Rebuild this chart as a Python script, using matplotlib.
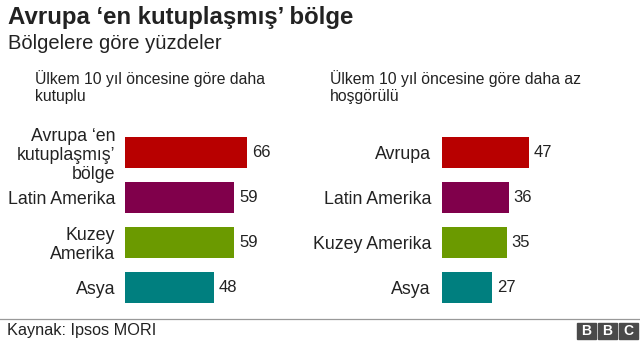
import matplotlib.pyplot as plt
from matplotlib.patches import Rectangle

plt.rcParams['font.family'] = ['Liberation Sans', 'DejaVu Sans']

# data
left_labels = ["Avrupa ‘en\nkutuplaşmış’\nbölge", "Latin Amerika", "Kuzey\nAmerika", "Asya"]
left_values = [66, 59, 59, 48]
right_labels = ["Avrupa", "Latin Amerika", "Kuzey Amerika", "Asya"]
right_values = [47, 36, 35, 27]
colors = ["#b80000", "#80004b", "#6b9a00", "#007f7f"]

title = "Avrupa ‘en kutuplaşmış’ bölge"
subtitle = "Bölgelere göre yüzdeler"
left_header = "Ülkem 10 yıl öncesine göre daha\nkutuplu"
right_header = "Ülkem 10 yıl öncesine göre daha az\nhoşgörülü"
source = "Kaynak: Ipsos MORI"

W, H = 640, 343
fig = plt.figure(figsize=(W / 100, H / 100), dpi=100)


def px_axes(x0, y0, w, h):
    # axes from pixel box (top-left origin)
    return fig.add_axes([x0 / W, 1 - (y0 + h) / H, w / W, h / H])


def draw_panel(ax, labels, values, pad):
    ax.barh(range(len(values)), values, height=0.69, color=colors)
    ax.set_xlim(0, 100)
    ax.set_ylim(3.5, -0.5)
    ax.set_yticks(range(len(labels)))
    ax.set_yticklabels(labels, fontsize=12.8, color="#222222", linespacing=1.15,
                       multialignment="right")
    ax.tick_params(axis="y", length=0, pad=pad)
    ax.set_xticks([])
    for s in ax.spines.values():
        s.set_visible(False)
    for i, v in enumerate(values):
        ax.text(v + 2.7, i, str(v), va="center", ha="left", fontsize=12, color="#222222")


ax1 = px_axes(125, 130, 185, 180)
draw_panel(ax1, left_labels, left_values, 7)
ax2 = px_axes(442, 130, 185, 180)
draw_panel(ax2, right_labels, right_values, 8)

fig.text(8 / W, 1 - 6 / H, title, fontsize=17.3, fontweight="bold", va="top", color="#222222")
fig.text(8 / W, 1 - 34 / H, subtitle, fontsize=14.5, va="top", color="#222222")
fig.text(35 / W, 1 - 70 / H, left_header, fontsize=11.3, va="top", color="#222222", linespacing=1.2)
fig.text(330 / W, 1 - 70 / H, right_header, fontsize=11.3, va="top", color="#222222", linespacing=1.2)

# footer
fig.add_artist(plt.Line2D([0, 1], [1 - 319 / H, 1 - 319 / H], color="#999999", lw=0.9))
fig.text(7 / W, 1 - 331 / H, source, fontsize=11.7, va="center", color="#222222")
for k, ch in enumerate("BBC"):
    x0 = 577 + k * 21
    fig.add_artist(Rectangle((x0 / W, 1 - 339 / H), 19 / W, 16 / H, color="#4a4a4a",
                             transform=fig.transFigure))
    fig.text((x0 + 9.5) / W, 1 - 331 / H, ch, fontsize=10, fontweight="bold",
             color="white", ha="center", va="center")

fig.savefig("out.png", dpi=100)
